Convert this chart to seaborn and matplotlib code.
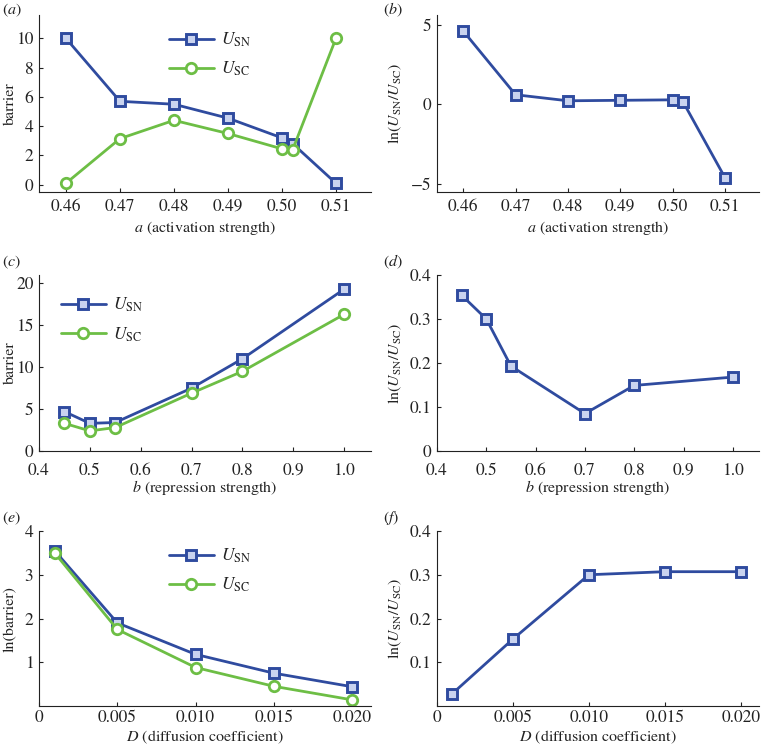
import numpy as np
import pandas as pd
import matplotlib
matplotlib.use("Agg")
import matplotlib.pyplot as plt
import seaborn as sns

# ---- data ----
a_vals = [0.46, 0.47, 0.48, 0.49, 0.50, 0.502, 0.51]
a_usn = [10.0, 5.7, 5.5, 4.55, 3.2, 2.8, 0.1]
a_usc = [0.1, 3.15, 4.4, 3.5, 2.45, 2.4, 10.0]
a_ratio = [4.6, 0.6, 0.22, 0.25, 0.28, 0.15, -4.6]

b_vals = [0.45, 0.50, 0.55, 0.70, 0.80, 1.00]
b_usn = [4.7, 3.3, 3.4, 7.5, 11.0, 19.3]
b_usc = [3.3, 2.4, 2.8, 6.9, 9.5, 16.3]
b_ratio = [0.354, 0.300, 0.193, 0.085, 0.149, 0.168]

d_vals = [0.001, 0.005, 0.010, 0.015, 0.020]
d_usn = [3.55, 1.90, 1.18, 0.75, 0.44]
d_usc = [3.50, 1.75, 0.88, 0.45, 0.14]
d_ratio = [0.028, 0.153, 0.300, 0.307, 0.307]

a_ticks = [0.46, 0.47, 0.48, 0.49, 0.50, 0.51]
a_ticklabels = ["0.46", "0.47", "0.48", "0.49", "0.50", "0.51"]
b_ticks = [0.4, 0.5, 0.6, 0.7, 0.8, 0.9, 1.0]
b_ticklabels = ["0.4", "0.5", "0.6", "0.7", "0.8", "0.9", "1.0"]
d_ticks = [0, 0.005, 0.010, 0.015, 0.020]
d_ticklabels = ["0", "0.005", "0.010", "0.015", "0.020"]

BLUE = "#2f4b9f"
GREEN = "#6dbe45"

sns.set_theme(style="ticks")
plt.rcParams.update({
    "font.family": ["STIXGeneral", "DejaVu Serif"],
    "mathtext.fontset": "stix",
    "font.size": 11,
    "axes.labelsize": 11.5,
    "xtick.labelsize": 12.5,
    "ytick.labelsize": 12.5,
    "xtick.direction": "in",
    "ytick.direction": "in",
    "xtick.major.size": 3,
    "ytick.major.size": 3,
    "xtick.major.width": 0.8,
    "ytick.major.width": 0.8,
    "axes.linewidth": 0.8,
    "axes.edgecolor": "#222222",
    "xtick.color": "#222222",
    "ytick.color": "#222222",
    "text.color": "#222222",
    "axes.labelcolor": "#222222",
})

fig = plt.figure(figsize=(7.61, 7.5), dpi=100)

lx, lw = 39/761, 332/761
rx, rw = 437/761, 322/761
rows = [(1-192/750, 177/750), (1-451/750, 176/750), (1-706/750, 175/750)]

axA = fig.add_axes([lx, rows[0][0], lw, rows[0][1]])
axB = fig.add_axes([rx, rows[0][0], rw, rows[0][1]])
axC = fig.add_axes([lx, rows[1][0], lw, rows[1][1]])
axD = fig.add_axes([rx, rows[1][0], rw, rows[1][1]])
axE = fig.add_axes([lx, rows[2][0], lw, rows[2][1]])
axF = fig.add_axes([rx, rows[2][0], rw, rows[2][1]])

sq = dict(marker="s", markersize=6.5, markerfacecolor="#c9d3ef", markeredgecolor=BLUE, markeredgewidth=2.1)
ci = dict(marker="o", markersize=7.5, markerfacecolor="white", markeredgecolor=GREEN, markeredgewidth=2.0)

USN = r"$U_{\mathrm{SN}}$"
USC = r"$U_{\mathrm{SC}}$"
RATIO = r"$\mathrm{ln}(U_{\mathrm{SN}}/U_{\mathrm{SC}})$"

def two(ax, x, y1, y2):
    sns.lineplot(x=x, y=y1, ax=ax, color=BLUE, linewidth=2, label=USN, sort=False, **sq)
    sns.lineplot(x=x, y=y2, ax=ax, color=GREEN, linewidth=2, label=USC, sort=False, **ci)

def one(ax, x, y):
    sns.lineplot(x=x, y=y, ax=ax, color=BLUE, linewidth=2, sort=False, **sq)

two(axA, a_vals, a_usn, a_usc)
one(axB, a_vals, a_ratio)
two(axC, b_vals, b_usn, b_usc)
one(axD, b_vals, b_ratio)
two(axE, d_vals, d_usn, d_usc)
one(axF, d_vals, d_ratio)

for ax in [axA, axB]:
    ax.set_xlim(0.455, 0.5165)
    ax.set_xticks(a_ticks)
    ax.set_xticklabels(a_ticklabels)
    ax.set_xlabel(r"$a$ (activation strength)")
axA.set_ylim(-0.5, 11.6)
axA.set_yticks([0, 2, 4, 6, 8, 10])
axA.set_ylabel("barrier")
axB.set_ylim(-5.5, 5.6)
axB.set_yticks([-5, 0, 5])
axB.set_yticklabels(["\u22125", "0", "5"])
axB.set_ylabel(RATIO)

for ax in [axC, axD]:
    ax.set_xlim(0.4, 1.053)
    ax.set_xticks(b_ticks)
    ax.set_xticklabels(b_ticklabels)
    ax.set_xlabel(r"$b$ (repression strength)")
axC.set_ylim(0, 21)
axC.set_yticks([0, 5, 10, 15, 20])
axC.set_ylabel("barrier")
axD.set_ylim(0, 0.4)
axD.set_yticks([0, 0.1, 0.2, 0.3, 0.4])
axD.set_yticklabels(["0", "0.1", "0.2", "0.3", "0.4"])
axD.set_ylabel(RATIO)

for ax in [axE, axF]:
    ax.set_xlim(0, 0.0212)
    ax.set_xticks(d_ticks)
    ax.set_xticklabels(d_ticklabels)
    ax.set_xlabel(r"$D$ (diffusion coefficient)")
axE.set_ylim(0, 4)
axE.set_yticks([1, 2, 3, 4])
axE.set_ylabel("ln(barrier)")
axF.set_ylim(0, 0.4)
axF.set_yticks([0.1, 0.2, 0.3, 0.4])
axF.set_yticklabels(["0.1", "0.2", "0.3", "0.4"])
axF.set_ylabel(RATIO)

xlab_px = {0: 36, 1: 36, 2: 31}
xpad = {0: 5, 1: 8.5, 2: 3}
heights = {0: 177, 1: 176, 2: 175}
for i, (l, r) in enumerate([(axA, axB), (axC, axD), (axE, axF)]):
    for ax in (l, r):
        sns.despine(ax=ax)
        ax.tick_params(axis="x", pad=xpad[i])
        ax.tick_params(axis="y", pad=4)
        if ax.get_legend() is not None:
            ax.get_legend().remove()
        ax.xaxis.label.set_va("center")
        ax.xaxis.set_label_coords(0.5, -xlab_px[i] / heights[i])
        ax.yaxis.label.set_va("center")
    l.yaxis.set_label_coords((10 - 39) / 332, 0.5)
    r.yaxis.set_label_coords((395 - 437) / 322, 0.5)

leg_kw = dict(frameon=False, fontsize=12.5, handlelength=2.6, labelspacing=0.62, handletextpad=0.4, borderaxespad=0)
axA.legend(loc="upper left", bbox_to_anchor=(0.37, 0.95), **leg_kw)
axC.legend(loc="upper left", bbox_to_anchor=(0.045, 0.92), **leg_kw)
axE.legend(loc="upper left", bbox_to_anchor=(0.37, 0.95), **leg_kw)

for lab, (x, y) in zip("abcdef", [(2, 10), (383, 10), (2, 262), (383, 262), (2, 518), (383, 518)]):
    fig.text(x/761, 1 - y/750, "(" + r"$\it{" + lab + "}$" + ")", fontsize=11.5, va="center", ha="left")

fig.savefig("out.png", dpi=100)
